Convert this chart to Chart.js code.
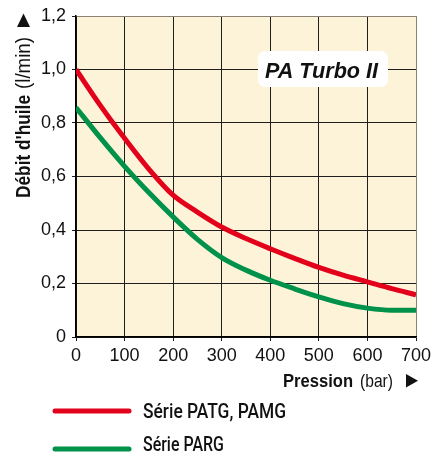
<!DOCTYPE html>
<html>
<head>
<meta charset="utf-8">
<script src="https://cdn.jsdelivr.net/npm/chart.js@4/dist/chart.umd.min.js"></script>
<style>
  html, body { margin: 0; padding: 0; background: #ffffff; }
  #wrap { width: 431px; height: 455px; position: relative; }
</style>
</head>
<body>
<div id="wrap"><canvas id="c" width="431" height="455"></canvas></div>
<script>
// ---- Data ----
const pressure   = [0, 50, 100, 150, 200, 250, 300, 350, 400, 450, 500, 550, 600, 650, 700];
const patgFlow   = [1.0, 0.866, 0.743, 0.628, 0.53, 0.467, 0.411, 0.368, 0.33, 0.294, 0.26, 0.231, 0.206, 0.181, 0.158];
const pargFlow   = [0.858, 0.745, 0.638, 0.54, 0.449, 0.365, 0.297, 0.25, 0.212, 0.18, 0.15, 0.125, 0.108, 0.10, 0.10];
const xTicks     = [0, 100, 200, 300, 400, 500, 600, 700];
const yTicks     = [0, 0.2, 0.4, 0.6, 0.8, 1.0, 1.2];
const seriesNames = ['Série PATG, PAMG', 'Série PARG'];
const yTitleBold = "Débit d'huile";
const yTitleUnit = "(l/min)";
const xTitleBold = "Pression";
const xTitleUnit = "(bar)";
const badgeText  = "PA Turbo II";

const RED = '#E3001B';
const GREEN = '#00924A';
const GRID = '#1e1e1e';
const EDGE = '#8a8272';

function toXY(xs, ys) { return xs.map((x, i) => ({ x: x, y: ys[i] })); }
function fmtY(v) { return v === 0 ? '0' : v.toFixed(1).replace('.', ','); }

// draw text horizontally scaled so that it fits a given width
function fitText(ctx, s, x, y, font, width, align) {
  ctx.save();
  ctx.font = font;
  const w = ctx.measureText(s).width;
  const sx = width / w;
  ctx.translate(x, y);
  ctx.scale(sx, 1);
  ctx.textAlign = align || 'left';
  ctx.textBaseline = 'alphabetic';
  ctx.fillText(s, 0, 0);
  ctx.restore();
}

const bgPlugin = {
  id: 'bg',
  beforeDraw(chart) {
    const { ctx, chartArea: a } = chart;
    ctx.save();
    ctx.fillStyle = '#FDF3D8';
    ctx.fillRect(a.left, a.top, a.right - a.left, a.bottom - a.top);
    ctx.restore();
  }
};

const decoPlugin = {
  id: 'deco',
  afterDraw(chart) {
    const ctx = chart.ctx;
    ctx.save();
    ctx.fillStyle = '#111111';

    // Y title (rotated)
    ctx.save();
    ctx.translate(30, 198);
    ctx.rotate(-Math.PI / 2);
    fitText(ctx, yTitleBold, 0, 0, 'bold 20px "Liberation Sans", Arial, sans-serif', 103, 'left');
    fitText(ctx, yTitleUnit, 109, 0, '20px "Liberation Sans", Arial, sans-serif', 52, 'left');
    ctx.restore();
    // up arrow
    ctx.beginPath();
    ctx.moveTo(17, 27); ctx.lineTo(30, 27); ctx.lineTo(23.5, 13.5); ctx.closePath();
    ctx.fill();

    // X title
    fitText(ctx, xTitleBold, 283, 387, 'bold 19px "Liberation Sans", Arial, sans-serif', 70, 'left');
    fitText(ctx, xTitleUnit, 360, 387, '19px "Liberation Sans", Arial, sans-serif', 33, 'left');
    ctx.beginPath();
    ctx.moveTo(406, 374); ctx.lineTo(406, 387.5); ctx.lineTo(418, 380.75); ctx.closePath();
    ctx.fill();

    // Badge
    ctx.fillStyle = '#ffffff';
    ctx.beginPath();
    ctx.roundRect(258, 51, 130, 36, 7);
    ctx.fill();
    ctx.fillStyle = '#111111';
    fitText(ctx, badgeText, 321.5, 78, 'italic bold 22px "Liberation Sans", Arial, sans-serif', 113, 'center');

    // Legend
    const ds = chart.data.datasets;
    const rows = [{ y: 411, ty: 418, tw: 143 }, { y: 449, ty: 451, tw: 81 }];
    ds.forEach((d, i) => {
      const r = rows[i];
      ctx.strokeStyle = d.borderColor;
      ctx.lineWidth = 5;
      ctx.lineCap = 'round';
      ctx.beginPath();
      ctx.moveTo(55, r.y); ctx.lineTo(129, r.y);
      ctx.stroke();
      ctx.fillStyle = '#111111';
      fitText(ctx, d.label, 143, r.ty, '500 20px Roboto, "Liberation Sans", sans-serif', r.tw, 'left');
    });
    ctx.restore();
  }
};

new Chart(document.getElementById('c'), {
  type: 'line',
  data: {
    datasets: [
      { label: seriesNames[0], data: toXY(pressure, patgFlow), borderColor: RED, backgroundColor: RED,
        borderWidth: 5, pointRadius: 0, cubicInterpolationMode: 'monotone', fill: false },
      { label: seriesNames[1], data: toXY(pressure, pargFlow), borderColor: GREEN, backgroundColor: GREEN,
        borderWidth: 5, pointRadius: 0, cubicInterpolationMode: 'monotone', fill: false }
    ]
  },
  options: {
    responsive: false,
    animation: false,
    devicePixelRatio: 1,
    layout: { padding: { left: 0, right: 15, top: 16, bottom: 88 } },
    plugins: { legend: { display: false }, tooltip: { enabled: false } },
    scales: {
      x: {
        type: 'linear', min: 0, max: 700,
        afterFit(s) { s.height = 30; s.paddingLeft = 0; s.paddingRight = 0; },
        afterBuildTicks(s) { s.ticks = xTicks.map(v => ({ value: v })); },
        ticks: { color: '#111', font: { family: '"Liberation Sans", Arial', size: 18 }, padding: 4, maxRotation: 0,
                 callback: v => String(v) },
        grid: { color: c => (c.tick && c.tick.value === 700 ? EDGE : GRID), lineWidth: 1, tickLength: 4, tickColor: GRID },
        border: { color: '#000', width: 1.5 }
      },
      y: {
        type: 'linear', min: 0, max: 1.2,
        afterFit(s) { s.width = 76; s.paddingTop = 0; s.paddingBottom = 0; },
        afterBuildTicks(s) { s.ticks = yTicks.map(v => ({ value: v })); },
        ticks: { color: '#111', font: { family: '"Liberation Sans", Arial', size: 18 }, padding: 6,
                 callback: v => fmtY(v) },
        grid: { color: c => (c.tick && Math.abs(c.tick.value - 1.2) < 1e-6 ? EDGE : GRID), lineWidth: 1, tickLength: 4, tickColor: GRID },
        border: { color: '#000', width: 1.5 }
      }
    }
  },
  plugins: [bgPlugin, decoPlugin]
});
</script>
</body>
</html>
